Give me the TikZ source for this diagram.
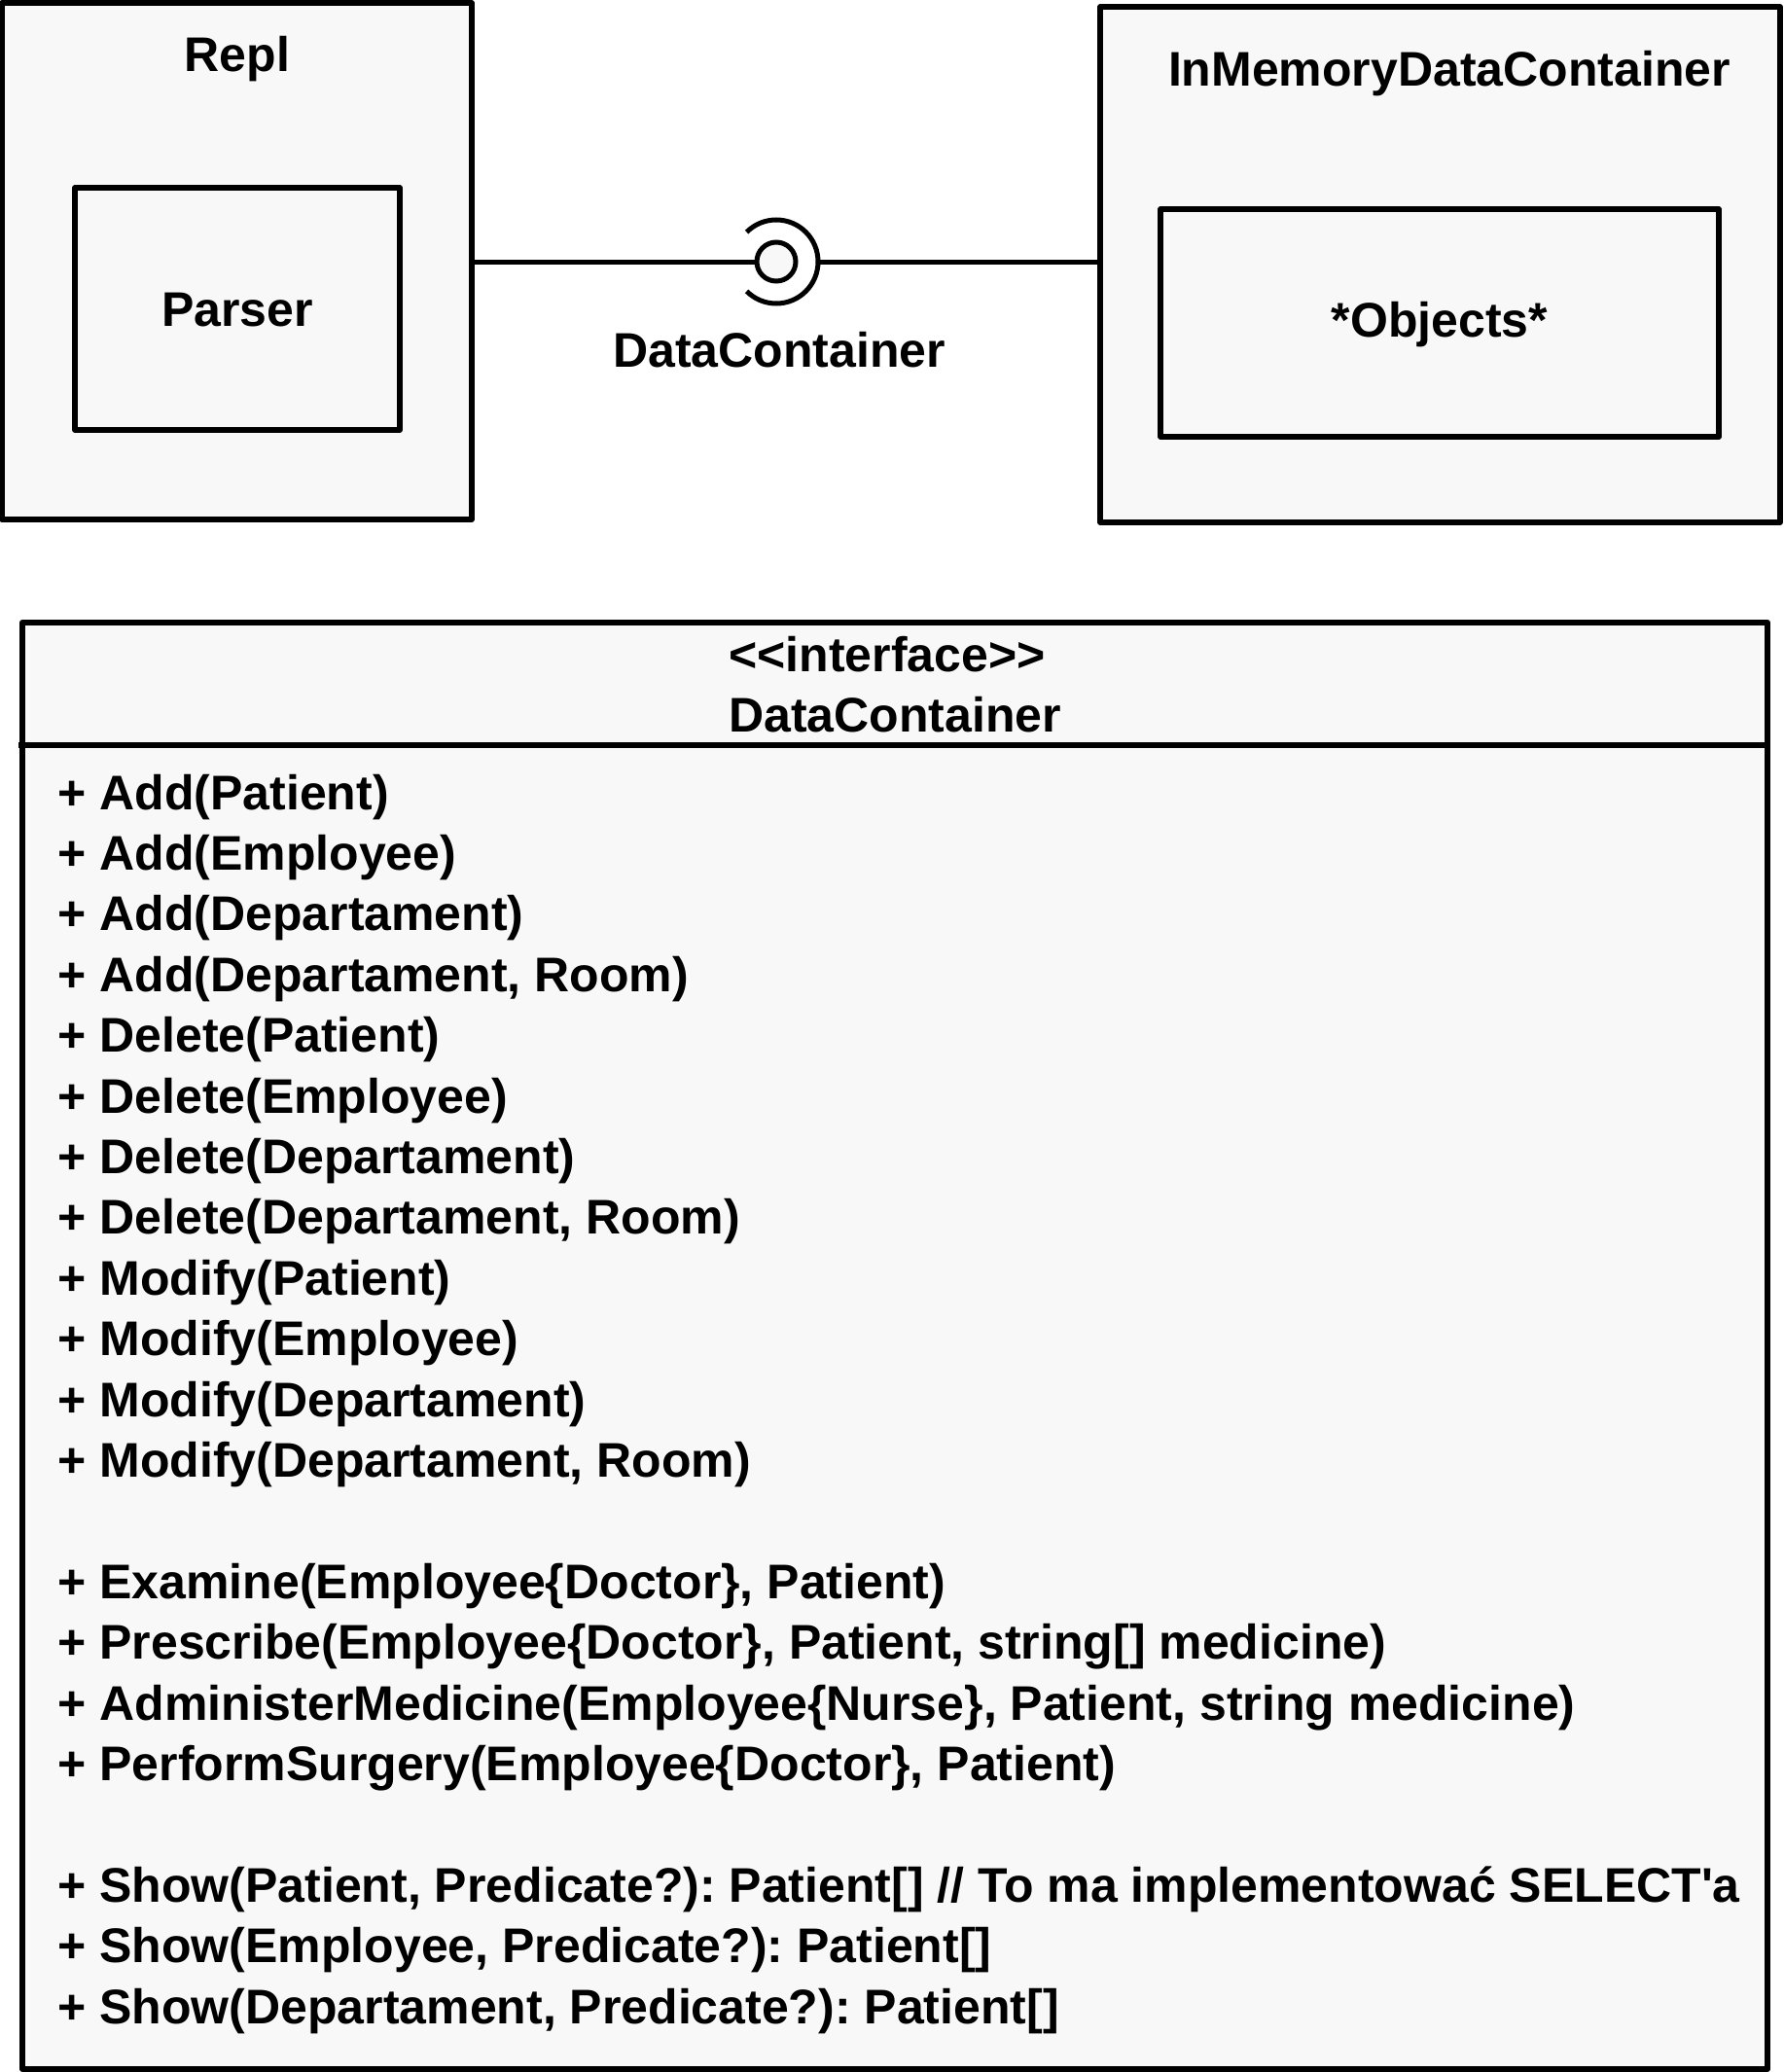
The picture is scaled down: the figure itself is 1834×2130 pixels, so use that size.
\documentclass[tikz,border=0pt]{standalone}
\usepackage{fontspec}
\setmainfont{Liberation Sans}
\usetikzlibrary{positioning}
\definecolor{boxfill}{RGB}{248,248,248}
\tikzset{
  comp/.style={draw,line width=2.75pt,fill=boxfill,line join=round,inner sep=0pt},
  conn/.style={line width=2.5pt},
  lbl/.style={font=\bfseries\fontsize{25}{31.2}\selectfont,inner sep=0pt,anchor=base},
}
\frenchspacing
\begin{document}
\begin{tikzpicture}[x=0.5pt,y=-0.5pt]
\fill[white] (0,0) rectangle (1834,2130);
\useasboundingbox (0,0) rectangle (1834,2130);
% Components
\node[comp,minimum width=241.5pt,minimum height=265.5pt] (repl) at (243.5,268.5) {};
\node[comp,minimum width=167pt,minimum height=124.5pt] (parser) at (244,317.5) {};
\node[comp,minimum width=349.5pt,minimum height=265pt] (mem) at (1480.5,272) {};
\node[comp,minimum width=287pt,minimum height=117pt] (objects) at (1480,332) {};
\node[lbl] (repllbl) at (244,74) {Repl};
\node[lbl] (parserlbl) at (244,335) {Parser};
\node[lbl] (memlbl) at (1490,89) {InMemoryDataContainer};
\node[lbl] (objlbl) at (1480,346) {*Objects*};
% Lollipop
\node[circle,draw,conn,fill=boxfill,minimum size=20pt,inner sep=0pt] (ball) at (798,269) {};
\draw[conn] ([shift={(135:43)}]ball.center) arc (135:-135:43);
\coordinate (sockr) at ([xshift=21.5pt]ball.center);
\draw[conn] (repl.east |- ball.west) -- (ball.west);
\draw[conn] (sockr) -- (mem.west |- sockr);
\node[lbl] (ifacelbl) at (801,377) {DataContainer};
% Interface
\node[comp,line width=3pt,minimum width=897pt,minimum height=743.5pt] (iface) at (920,1383.5) {};
\draw[line width=2.75pt] (19,766) -- (iface.east |- 0,766);
\node[lbl] (stereo) at (912,690) {<{}<interface>{}>};
\node[lbl] (ifname) at (920,752) {DataContainer};
\foreach \k/\txt in {0/{+ Add(Patient)}, 1/{+ Add(Employee)}, 2/{+ Add(Departament)},
  3/{+ Add(Departament, Room)}, 4/{+ Delete(Patient)}, 5/{+ Delete(Employee)},
  6/{+ Delete(Departament)}, 7/{+ Delete(Departament, Room)}, 8/{+ Modify(Patient)},
  9/{+ Modify(Employee)}, 10/{+ Modify(Departament)}, 11/{+ Modify(Departament, Room)},
  13/{+ Examine(Employee\{Doctor\}, Patient)},
  14/{+ Prescribe(Employee\{Doctor\}, Patient, string[] medicine)},
  15/{+ AdministerMedicine(Employee\{Nurse\}, Patient, string medicine)},
  16/{+ PerformSurgery(Employee\{Doctor\}, Patient)},
  18/{+ Show(Patient, Predicate?): Patient[] // To ma implementować SELECT\textquotesingle a},
  19/{+ Show(Employee, Predicate?): Patient[]},
  20/{+ Show(Departament, Predicate?): Patient[]}}
  \node[lbl,anchor=base west] (m\k) at (59,832+62.4*\k) {\txt};
\end{tikzpicture}
\end{document}
